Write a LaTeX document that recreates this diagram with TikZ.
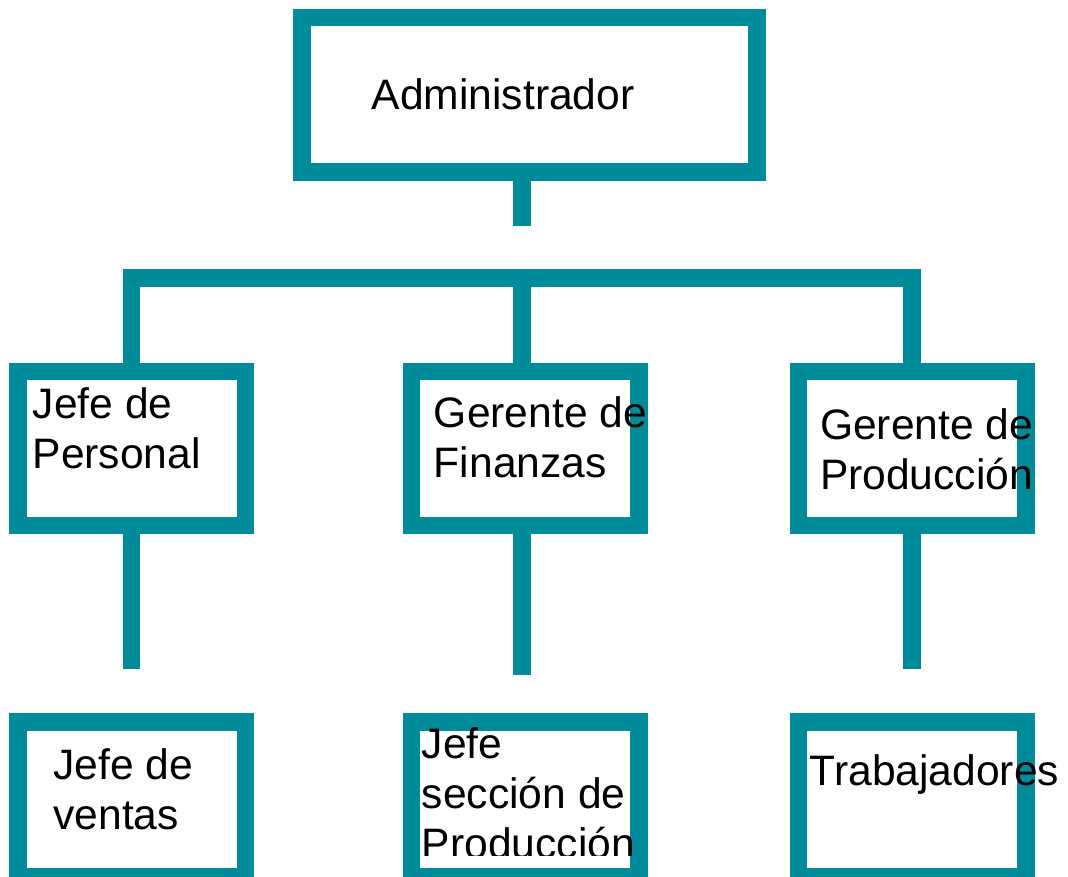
\documentclass[tikz,border=0pt]{standalone}
\usepackage{fontspec}
\setmainfont{Liberation Sans}
\definecolor{teal1}{RGB}{0,139,155}
\tikzset{
  orgbox/.style={draw=teal1, line width=17.5pt, minimum width=227.5pt, minimum height=154.3pt, inner sep=0pt, outer sep=0pt},
  conn/.style={draw=teal1, line width=17.5pt, line cap=butt},
  lbl/.style={anchor=base west, inner sep=0pt, outer sep=0pt, align=left, font=\fontsize{42.6}{50.2}\selectfont, text=black}
}
\begin{document}
\begin{tikzpicture}[x=1pt, y=-1pt]
\useasboundingbox (0,0) rectangle (1068,877);
% boxes
\node[orgbox, minimum width=454.9pt, minimum height=154.5pt] (admin) at (529.5,95) {};
\node[orgbox] (p1) at (131.7,448.5) {};
\node[orgbox] (p2) at (525,448.5) {};
\node[orgbox] (p3) at (912.2,448.5) {};
\node[orgbox, minimum height=154.7pt] (q1) at (131.7,799.4) {};
\node[orgbox, minimum height=154.7pt] (q2) at (525,799.4) {};
\node[orgbox, minimum height=154.7pt] (q3) at (912.2,799.4) {};
% connector end points
\coordinate (a1) at (521.8,225.7);
\coordinate (bar) at (521.8,277.8);
\coordinate (e1) at (131.7,669.3);
\coordinate (e2) at (521.8,675);
\coordinate (e3) at (912.2,669.3);
% connectors
\draw[conn] (admin.south -| a1) -- (a1);
\draw[conn] (p1.north) |- (bar) -| (p3.north);
\draw[conn] (bar) -- (p2.north -| bar);
\draw[conn] (p1.south) -- (e1);
\draw[conn] (p2.south -| e2) -- (e2);
\draw[conn] (p3.south) -- (e3);
% labels (anchor = baseline of the last line)
\node[lbl] (tadmin) at (371.7,110) {Administrador};
\node[lbl] (tp1) at (32.7,468.3) {Jefe de\\Personal};
\node[lbl] (tp2) at (433.9,477.3) {Gerente de\\Finanzas};
\node[lbl] (tp3) at (820,489.2) {Gerente de\\Producción};
\node[lbl] (tq1) at (53.4,829.2) {Jefe de\\ventas};
\begin{scope}
\clip (400,700) rectangle (660,855);
\node[lbl] (tq2) at (421.8,858.6) {Jefe\\sección de\\Producción};
\end{scope}
\node[lbl] (tq3) at (809.7,785) {Trabajadores};
\end{tikzpicture}
\end{document}
